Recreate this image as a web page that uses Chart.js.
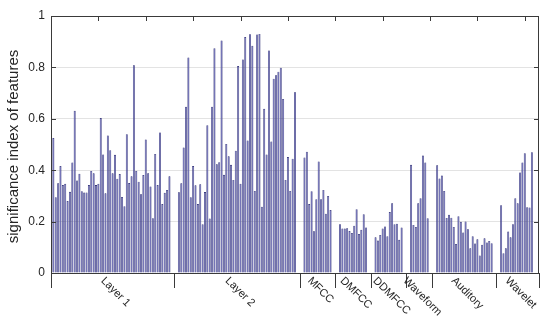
<!DOCTYPE html>
<html>
<head>
<meta charset="utf-8">
<script src="https://cdn.jsdelivr.net/npm/chart.js@4.4.1/dist/chart.umd.min.js"></script>
<style>
  html, body { margin: 0; padding: 0; background: #fff; }
  #wrap { width: 550px; height: 328px; }
</style>
</head>
<body>
<div id="wrap"><canvas id="chart" width="550" height="328"></canvas></div>
<script>
// feature groups, in plotting order
const groupNames = ['Layer 1', 'Layer 2', 'MFCC', 'DMFCC', 'DDMFCC', 'Waveform', 'Auditory', 'Wavelet'];

const layer1Values = [
  0.525, 0.295, 0.349, 0.416, 0.342, 0.347, 0.280, 0.316, 0.430, 0.631,
  0.360, 0.386, 0.318, 0.313, 0.313, 0.342, 0.397, 0.388, 0.342, 0.347,
  0.603, 0.461, 0.310, 0.535, 0.478, 0.388, 0.460, 0.367, 0.385, 0.296,
  0.260, 0.540, 0.350, 0.376, 0.808, 0.397, 0.355, 0.306, 0.381, 0.519,
  0.388, 0.337, 0.213, 0.463, 0.342, 0.547, 0.268, 0.312, 0.323, 0.376
];
const layer2Values = [
  0.314, 0.349, 0.488, 0.647, 0.839, 0.295, 0.416, 0.341, 0.268, 0.345,
  0.190, 0.315, 0.575, 0.212, 0.647, 0.875, 0.423, 0.431, 0.905, 0.382,
  0.502, 0.454, 0.421, 0.362, 0.476, 0.805, 0.347, 0.831, 0.918, 0.516,
  0.929, 0.884, 0.319, 0.928, 0.930, 0.258, 0.639, 0.461, 0.866, 0.512,
  0.756, 0.769, 0.783, 0.799, 0.677, 0.362, 0.451, 0.319, 0.445, 0.703
];
const mfccValues = [0.449, 0.472, 0.268, 0.318, 0.162, 0.287, 0.434, 0.287, 0.323, 0.231, 0.300, 0.245];
const dmfccValues = [0.190, 0.173, 0.173, 0.174, 0.163, 0.156, 0.184, 0.248, 0.152, 0.168, 0.229, 0.177];
const ddmfccValues = [0.139, 0.126, 0.148, 0.173, 0.181, 0.143, 0.237, 0.271, 0.190, 0.192, 0.129, 0.177];
const waveformValues = [0.421, 0.187, 0.179, 0.271, 0.291, 0.457, 0.430, 0.213];
const auditoryValues = [
  0.419, 0.368, 0.379, 0.319, 0.214, 0.227, 0.215, 0.179, 0.113, 0.221,
  0.199, 0.158, 0.200, 0.170, 0.096, 0.143, 0.115, 0.131, 0.068, 0.110,
  0.135, 0.119, 0.125, 0.116
];
const waveletValues = [0.264, 0.077, 0.096, 0.161, 0.139, 0.190, 0.291, 0.271, 0.391, 0.430, 0.466, 0.256, 0.255, 0.470];

const groupValues = [layer1Values, layer2Values, mfccValues, dmfccValues, ddmfccValues, waveformValues, auditoryValues, waveletValues];

const yTicks = [0, 0.2, 0.4, 0.6, 0.8, 1];
const topTicks = [20, 40, 60, 80, 100, 120, 140, 160, 180, 200];

// lay bars out on one index axis, 3 empty slots between groups
const GAP = 3;
const points = [];
const bounds = [0];
let slot = 1;
groupValues.forEach((vals) => {
  vals.forEach(v => { points.push({ x: slot, y: v }); slot++; });
  bounds.push(slot - 1 + (GAP + 1) / 2);
  slot += GAP;
});
bounds[bounds.length - 1] = slot - 1;
const centers = groupNames.map((_, i) => (bounds[i] + bounds[i + 1]) / 2);

const FONT = "'Liberation Sans', Arial, sans-serif";
const AXIS = '#3a3a3a';

const frame = {
  id: 'frame',
  afterDraw(chart) {
    const { ctx, chartArea: a, scales: { x, y } } = chart;
    ctx.save();
    ctx.strokeStyle = AXIS;
    ctx.lineWidth = 1;

    // box
    ctx.strokeRect(Math.round(a.left) + 0.5, Math.round(a.top) + 0.5,
      Math.round(a.right - a.left) - 1, Math.round(a.bottom - a.top));

    ctx.beginPath();
    // inward y ticks, both sides
    yTicks.slice(1, -1).forEach(v => {
      const py = Math.round(y.getPixelForValue(v)) + 0.5;
      ctx.moveTo(a.left, py); ctx.lineTo(a.left + 5, py);
      ctx.moveTo(a.right, py); ctx.lineTo(a.right - 5, py);
    });
    // inward top ticks
    topTicks.forEach(v => {
      const px = Math.round(x.getPixelForValue(v)) + 0.5;
      ctx.moveTo(px, a.top); ctx.lineTo(px, a.top + 5);
    });
    // group separators below the axis
    bounds.forEach(v => {
      const px = Math.round(x.getPixelForValue(v)) + 0.5;
      ctx.moveTo(px, a.bottom); ctx.lineTo(px, a.bottom + 15);
    });
    ctx.stroke();

    // group names, slanted
    ctx.fillStyle = '#262626';
    ctx.font = '11px ' + FONT;
    ctx.textAlign = 'center';
    ctx.textBaseline = 'middle';
    groupNames.forEach((name, i) => {
      const w = ctx.measureText(name).width;
      const px = x.getPixelForValue(centers[i]) + 3;
      const py = a.bottom + 6 + w * 0.3536;
      ctx.save();
      ctx.translate(px, py);
      ctx.rotate(Math.PI / 4);
      ctx.fillText(name, 0, 0);
      ctx.restore();
    });

    // y title
    ctx.font = '15px ' + FONT;
    ctx.translate(14, (a.top + a.bottom) / 2 + 2);
    ctx.rotate(-Math.PI / 2);
    ctx.fillText('significance index of features', 0, 0);
    ctx.restore();
  }
};

new Chart(document.getElementById('chart'), {
  type: 'bar',
  data: {
    datasets: [{
      data: points,
      backgroundColor: '#5e5eac',
      borderColor: '#1c1c68',
      borderWidth: 0.6,
      borderSkipped: 'bottom',
      barPercentage: 0.85,
      categoryPercentage: 1
    }]
  },
  options: {
    responsive: false,
    animation: false,
    layout: { padding: { left: 0, top: 16, right: 11, bottom: 55 } },
    plugins: { legend: { display: false }, tooltip: { enabled: false } },
    scales: {
      x: {
        type: 'linear', min: 0, max: 206, offset: false,
        grid: { display: false, drawTicks: false },
        border: { display: false },
        ticks: { display: false }
      },
      y: {
        min: 0,
        max: 1,
        afterBuildTicks: s => { s.ticks = yTicks.map(v => ({ value: v })); },
        afterFit: s => { s.width = 51; },
        border: { display: false },
        grid: {
          drawTicks: false,
          color: c => (c.tick && (c.tick.value === 0 || c.tick.value === 1)) ? 'rgba(0,0,0,0)' : '#e3e3e3'
        },
        ticks: {
          padding: 6,
          color: '#262626',
          font: { family: FONT, size: 12 },
          callback: v => String(v)
        }
      }
    }
  },
  plugins: [frame]
});
</script>
</body>
</html>
